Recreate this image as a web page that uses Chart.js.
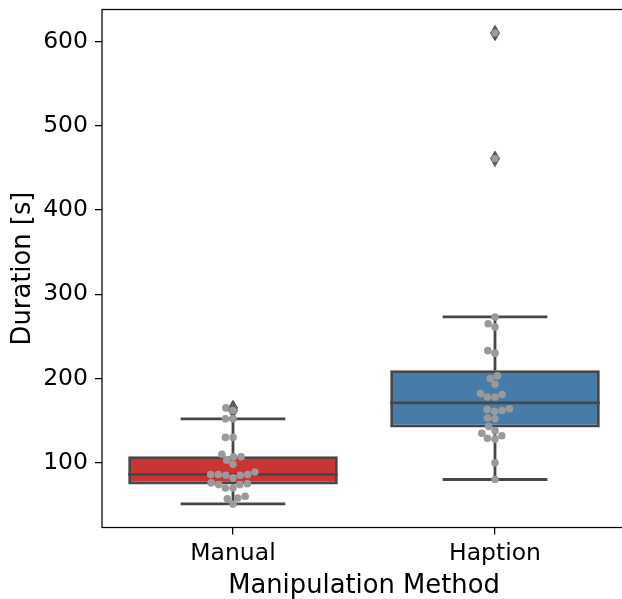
<!DOCTYPE html>
<html>
<head>
<meta charset="utf-8">
<script src="https://cdn.jsdelivr.net/npm/chart.js@4.4.0/dist/chart.umd.min.js"></script>
<style>
  html, body { margin: 0; padding: 0; background: #fff; overflow: hidden; }
  #wrap { width: 640px; height: 599px; }
</style>
</head>
<body>
<div id="wrap"><canvas id="grafico" width="640" height="599"></canvas></div>
<script>
// data
const categories = ['Manual', 'Haption'];
const manualDurations = [51, 57, 58, 60, 70, 70, 74, 74, 75, 76, 82, 85, 85, 86,
  86, 86, 89, 98, 103, 107, 107, 110, 130, 130, 152, 152, 162, 165];
const haptionDurations = [80, 100, 128, 129, 132, 135, 138, 143, 152, 153, 161, 162, 163, 164,
  178, 178, 181, 182, 193, 200, 203, 230, 233, 261, 265, 273, 461, 610];
const yTicks = [100, 200, 300, 400, 500, 600];

// style
const boxColors = ['#cb3335', '#477ca8'];
const lineGray = '#474747';
const dotGray = '#9a9a9a';
const boxWidth = 0.8;
const capWidth = 0.4;
const dotRadius = 3.8;

const groups = [manualDurations, haptionDurations];

function percentile(sorted, p) {
  const idx = (sorted.length - 1) * p;
  const lo = Math.floor(idx), hi = Math.ceil(idx);
  return sorted[lo] + (sorted[hi] - sorted[lo]) * (idx - lo);
}

function boxStats(values) {
  const s = [...values].sort((a, b) => a - b);
  const q1 = percentile(s, 0.25), med = percentile(s, 0.5), q3 = percentile(s, 0.75);
  const iqr = q3 - q1;
  const lo = s.find(v => v >= q1 - 1.5 * iqr);
  const hi = [...s].reverse().find(v => v <= q3 + 1.5 * iqr);
  return { q1, med, q3, lo, hi, fliers: s.filter(v => v < lo || v > hi) };
}

const stats = groups.map(boxStats);

const allValues = groups.flat();
const vMin = Math.min(...allValues), vMax = Math.max(...allValues);
const margin = (vMax - vMin) * 0.05;

function whiskerLines(i, st) {
  const b = boxWidth / 2, h = capWidth / 2;
  return [
    { x: i - b, y: st.med }, { x: i + b, y: st.med }, { x: i, y: null },
    { x: i, y: st.q1 }, { x: i, y: st.lo }, { x: i, y: null },
    { x: i - h, y: st.lo }, { x: i + h, y: st.lo }, { x: i, y: null },
    { x: i, y: st.q3 }, { x: i, y: st.hi }, { x: i, y: null },
    { x: i - h, y: st.hi }, { x: i + h, y: st.hi }
  ];
}

function thinDiamond() {
  const c = document.createElement('canvas');
  c.width = 10; c.height = 16;
  const g = c.getContext('2d');
  g.beginPath();
  g.moveTo(5, 0.5); g.lineTo(9.5, 8); g.lineTo(5, 15.5); g.lineTo(0.5, 8);
  g.closePath();
  g.fillStyle = '#5e5e5e';
  g.fill();
  g.strokeStyle = lineGray;
  g.lineWidth = 1;
  g.stroke();
  return c;
}

// plot frame; the right side falls just outside the window
const spines = {
  id: 'spines',
  afterDraw(chart) {
    const { ctx, chartArea: a } = chart;
    ctx.save();
    ctx.strokeStyle = '#000';
    ctx.lineWidth = 1.25;
    ctx.strokeRect(a.left, a.top, a.right - a.left, a.bottom - a.top);
    ctx.restore();
  }
};

const fontFamily = "'DejaVu Sans', sans-serif";

// keep the tick labels from pushing the plot area around
function noPad(axis) {
  axis.paddingTop = 0;
  axis.paddingBottom = 0;
  axis.paddingLeft = 0;
  axis.paddingRight = 0;
}

const ctx = document.getElementById('grafico').getContext('2d');

const chart = new Chart(ctx, {
  type: 'bar',
  data: {
    datasets: [
      {
        type: 'scatter',
        data: groups.flatMap((vals, i) => vals.map(v => ({ x: i, y: v }))),
        pointRadius: dotRadius,
        pointBackgroundColor: dotGray,
        pointBorderWidth: 0,
        order: 0
      },
      {
        type: 'scatter',
        data: stats.flatMap((st, i) => st.fliers.map(v => ({ x: i, y: v }))),
        pointStyle: thinDiamond(),
        order: 1
      },
      ...stats.map((st, i) => ({
        type: 'line',
        data: whiskerLines(i, st),
        borderColor: lineGray,
        borderWidth: 2.8,
        pointRadius: 0,
        spanGaps: false,
        order: 2
      })),
      {
        type: 'bar',
        data: stats.map((st, i) => ({ x: i, y: [st.q1, st.q3] })),
        backgroundColor: boxColors,
        borderColor: lineGray,
        borderWidth: 2.8,
        borderSkipped: false,
        barPercentage: boxWidth,
        categoryPercentage: 1,
        order: 3
      }
    ]
  },
  options: {
    responsive: false,
    animation: false,
    events: [],
    layout: { padding: { left: 0, top: 9.5, right: 14, bottom: 0 } },
    plugins: { legend: { display: false }, tooltip: { enabled: false } },
    scales: {
      x: {
        type: 'linear',
        min: -0.5,
        max: 1.5,
        offset: false,
        afterBuildTicks: axis => { axis.ticks = categories.map((c, i) => ({ value: i })); },
        afterFit: axis => { axis.height = 71.5; noPad(axis); },
        ticks: {
          autoSkip: false,
          maxRotation: 0,
          padding: 5.5,
          color: '#000',
          font: { family: fontFamily, size: 23.5 },
          callback: v => categories[v]
        },
        grid: { offset: false, drawOnChartArea: false, tickLength: 7, color: '#000', lineWidth: 1.25 },
        border: { display: false },
        title: {
          display: true,
          text: 'Manipulation Method',
          color: '#000',
          font: { family: fontFamily, size: 25.8 },
          padding: { top: 0, bottom: -2.5 }
        }
      },
      y: {
        min: vMin - margin,
        max: vMax + margin,
        afterBuildTicks: axis => { axis.ticks = yTicks.map(v => ({ value: v })); },
        afterFit: axis => { axis.width = 102; noPad(axis); },
        ticks: {
          padding: 7,
          color: '#000',
          font: { family: fontFamily, size: 23.5 }
        },
        grid: { drawOnChartArea: false, tickLength: 7, color: '#000', lineWidth: 1.25 },
        border: { display: false },
        title: {
          display: true,
          text: 'Duration [s]',
          color: '#000',
          font: { family: fontFamily, size: 25.8 },
          padding: { top: 8, bottom: 0 }
        }
      }
    }
  },
  plugins: [spines]
});

// beeswarm placement, like seaborn: sort by value, put each dot at the
// free spot nearest the category centre
function swarm(values, center) {
  const xs = chart.scales.x, ys = chart.scales.y;
  const unit = xs.getPixelForValue(1) - xs.getPixelForValue(0);
  const d = dotRadius * 2;
  const order = values.map((v, i) => i).sort((a, b) => values[a] - values[b]);
  const placed = [];
  const out = [];
  order.forEach(i => {
    const py = ys.getPixelForValue(values[i]);
    const near = placed.filter(p => Math.abs(p.py - py) < d);
    const cands = [0];
    near.forEach(p => {
      const dx = Math.sqrt(d * d - (p.py - py) ** 2);
      cands.push(p.px - dx, p.px + dx);
    });
    cands.sort((a, b) => Math.abs(a) - Math.abs(b));
    const px = cands.find(c => near.every(p => Math.hypot(p.px - c, p.py - py) >= d - 1e-6));
    placed.push({ px, py });
    out.push({ x: center + px / unit, y: values[i] });
  });
  return out;
}

chart.data.datasets[0].data = groups.flatMap((vals, i) => swarm(vals, i));
chart.update('none');
</script>
</body>
</html>
